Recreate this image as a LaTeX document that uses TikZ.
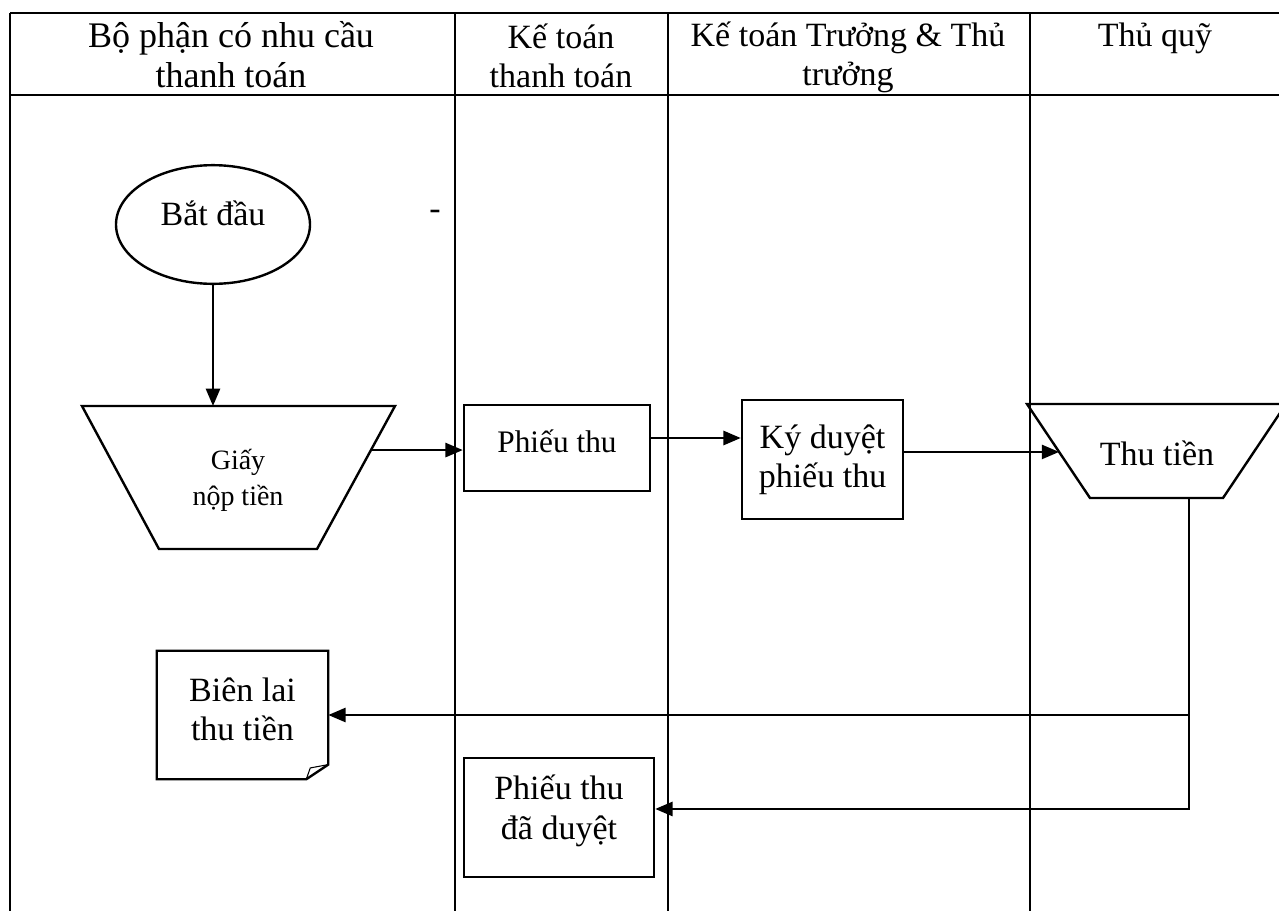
\documentclass[tikz,border=0pt]{standalone}
\usepackage{fontspec}
\setmainfont{Liberation Serif}
\usetikzlibrary{shapes.geometric,arrows.meta,calc}
\begin{document}
\begin{tikzpicture}[x=0.75pt,y=-0.75pt,
  gridline/.style={line width=1.1pt},
  shp/.style={draw, line width=1.8pt, inner sep=0pt},
  outline/.style={line width=1.8pt, line join=miter},
  big/.style={font=\fontsize{25.5}{29.5}\selectfont, align=center, inner sep=0pt},
  bigger/.style={font=\fontsize{27}{30}\selectfont, align=center, inner sep=0pt},
  mid/.style={font=\fontsize{23.5}{27}\selectfont, align=center, inner sep=0pt},
  small/.style={font=\fontsize{21}{27}\selectfont, align=center, inner sep=0pt},
  arr/.style={line width=2pt, -{Triangle[length=13pt,width=10.5pt]}}]
\useasboundingbox (0,0) rectangle (1279,911);
% table
\draw[gridline] (10,13) -- (1279,13);
\draw[gridline] (10,95) -- (1279,95);
\draw[gridline] (10,13) -- (10,911);
\draw[gridline] (455,13) -- (455,911);
\draw[gridline] (668,13) -- (668,911);
\draw[gridline] (1030,13) -- (1030,911);
% headers
\node[bigger] (h1) at (231,55) {Bộ phận có nhu cầu\\thanh toán};
\node[big] (h2) at (561,56) {Kế toán\\thanh toán};
\node[big] (h3) at (848,57.5) {Kế toán Trưởng \& Thủ\\trưởng};
\node[big] (h4) at (1155,38) {Thủ quỹ};
% start ellipse
\node[shp, ellipse, minimum width=145.5pt, minimum height=89pt] (start) at (213,224.5) {};
\node[big] (startlbl) at (213,213) {Bắt đầu};
\node[big] (dash) at (435,215) {-};
% Giay trapezoid
\coordinate (gTL) at (82,406);
\coordinate (gTR) at (395,406);
\coordinate (gBR) at (317,549);
\coordinate (gBL) at (159,549);
\draw[outline] (gTL) -- (gTR) -- (gBR) -- (gBL) -- cycle;
\node[small] (giay) at (238,480) {Giấy\\nộp tiền};
\coordinate (gout) at ($(gTR)!0.308!(gBR)$);
% Phieu thu
\node[shp, minimum width=139.5pt, minimum height=64.5pt] (phieu) at (557,448) {};
\node[mid] (phieulbl) at (557,441) {Phiếu thu};
% Ky duyet
\node[shp, big, minimum width=120.75pt, minimum height=89.25pt] (ky) at (822.5,459.5) {Ký duyệt\\phiếu thu};
% Thu tien trapezoid
\coordinate (tTL) at (1027,404);
\coordinate (tTR) at (1286,404);
\coordinate (tBR) at (1223,498);
\coordinate (tBL) at (1090,498);
\draw[outline] (tTL) -- (tTR) -- (tBR) -- (tBL) -- cycle;
\node[big] (thu) at (1157,453) {Thu tiền};
\coordinate (tin) at ($(tTL)!0.51!(tBL)$);
\coordinate (tout) at (1189,498);
% Bien lai document
\node[minimum width=128.25pt, minimum height=96pt, inner sep=0pt] (bien) at (242.5,715) {};
\draw[outline] (bien.north west) -- (bien.north east) -- ([yshift=11pt]bien.south east)
  -- ([xshift=-16.5pt]bien.south east) -- (bien.south west) -- cycle;
\draw[line width=0.8pt] ([yshift=11pt]bien.south east) -- ([xshift=-13.5pt,yshift=8.5pt]bien.south east)
  -- ([xshift=-16.5pt]bien.south east);
\node[big] (bienlbl) at (242.5,709) {Biên lai\\thu tiền};
% Phieu thu da duyet
\node[shp, minimum width=142.5pt, minimum height=89.25pt] (duyet) at (559,817.5) {};
\node[big] (duyetlbl) at (559,811) {Phiếu thu\\đã duyệt};
% connectors
\draw[arr] (start.south) -- (start.south |- gTL);
\draw[arr] (gout) -- (gout -| phieu.west);
\draw[arr] ([yshift=7.5pt]phieu.east) -- ([yshift=7.5pt]phieu.east -| ky.west);
\draw[arr] (ky.east |- tin) -- (tin);
\draw[arr] (tout) |- ([yshift=6.4pt]duyet.east);
\draw[arr] (tout |- bien.east) -- (bien.east);
\end{tikzpicture}
\end{document}
